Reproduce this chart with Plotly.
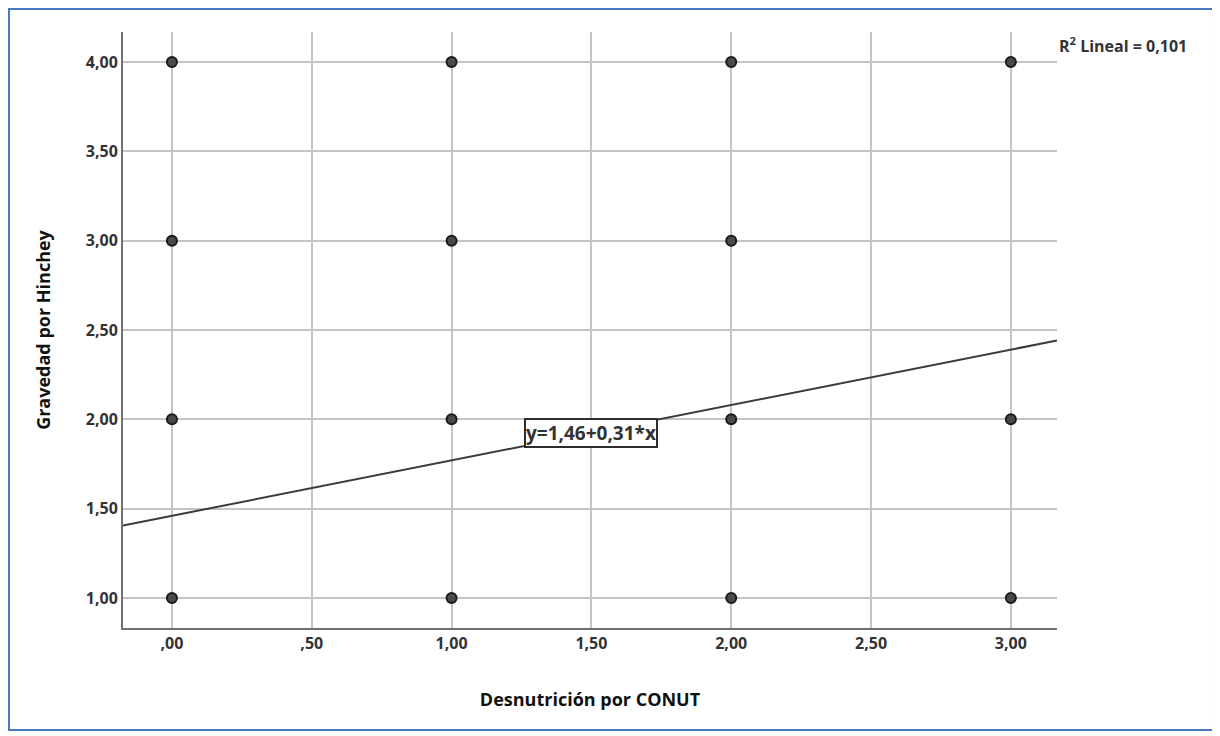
import plotly.graph_objects as go

# Data
conut = [0, 1, 2, 3, 0, 1, 2, 0, 1, 2, 3, 0, 1, 2, 3]
hinchey = [4, 4, 4, 4, 3, 3, 3, 2, 2, 2, 2, 1, 1, 1, 1]
intercept = 1.46
slope = 0.31
r2_text = "R<sup>2</sup> Lineal = 0,101"
eq_text = "y=1,46+0,31*x"

x_tickvals = [0, 0.5, 1, 1.5, 2, 2.5, 3]
x_ticktext = [",00", ",50", "1,00", "1,50", "2,00", "2,50", "3,00"]
y_tickvals = [1, 1.5, 2, 2.5, 3, 3.5, 4]
y_ticktext = ["1,00", "1,50", "2,00", "2,50", "3,00", "3,50", "4,00"]

x_range = [-0.175, 3.165]
y_range = [0.832, 4.168]

font_family = "Open Sans, Liberation Sans, Arial, sans-serif"
text_color = "#333333"

fig = go.Figure()

line_x = [x_range[0], x_range[1]]
line_y = [intercept + slope * v for v in line_x]
fig.add_trace(go.Scatter(
    x=line_x, y=line_y, mode="lines",
    line=dict(color="#3a3a3a", width=2),
    hoverinfo="skip", showlegend=False,
))

fig.add_trace(go.Scatter(
    x=conut, y=hinchey, mode="markers",
    marker=dict(size=10, color="#4a4a4a", line=dict(color="#1a1a1a", width=2)),
    showlegend=False,
))

eq_x = 1.5
fig.add_annotation(
    x=eq_x, y=intercept + slope * eq_x, xref="x", yref="y",
    text="<b>" + eq_text + "</b>", showarrow=False,
    font=dict(family=font_family, size=19, color=text_color),
    bgcolor="white", bordercolor="#2e2e2e", borderwidth=2, borderpad=0,
)

fig.add_annotation(
    x=1.0, y=4.095, xref="paper", yref="y",
    xanchor="left", yanchor="middle",
    text="<b>" + r2_text + "</b>", showarrow=False,
    font=dict(family=font_family, size=16, color=text_color),
    xshift=0,
)

# blue frame around image
fig.add_shape(
    type="rect", xref="paper", yref="paper",
    x0=-0.1221, x1=1.1670, y0=-0.1711, y1=1.0386,
    line=dict(color="#4a78c0", width=2), fillcolor="rgba(0,0,0,0)",
)

fig.update_xaxes(
    range=x_range, tickvals=x_tickvals, ticktext=["<b>" + t + "</b>" for t in x_ticktext],
    showgrid=True, gridcolor="#c4c4c4", gridwidth=2,
    showline=True, linecolor="#707070", linewidth=2, mirror=False,
    zeroline=False, ticks="", ticklen=0,
    tickfont=dict(family=font_family, size=16, color=text_color),
    title=dict(text="<b>Desnutrición por CONUT</b>", standoff=40,
               font=dict(family=font_family, size=18, color="#111111")),
)
fig.update_yaxes(
    range=y_range, tickvals=y_tickvals, ticktext=["<b>" + t + "</b>" for t in y_ticktext],
    showgrid=True, gridcolor="#c4c4c4", gridwidth=2,
    showline=True, linecolor="#707070", linewidth=2, mirror=False,
    zeroline=False, ticks="", ticklen=0,
    tickfont=dict(family=font_family, size=16, color=text_color),
    title=dict(text="<b>Gravedad por Hinchey</b>", standoff=30,
               font=dict(family=font_family, size=18, color="#111111")),
)

fig.update_layout(
    width=1212, height=728,
    margin=dict(l=115, r=163, t=24, b=108),
    paper_bgcolor="white", plot_bgcolor="white",
    showlegend=False,
)

fig.write_html("out.html")
